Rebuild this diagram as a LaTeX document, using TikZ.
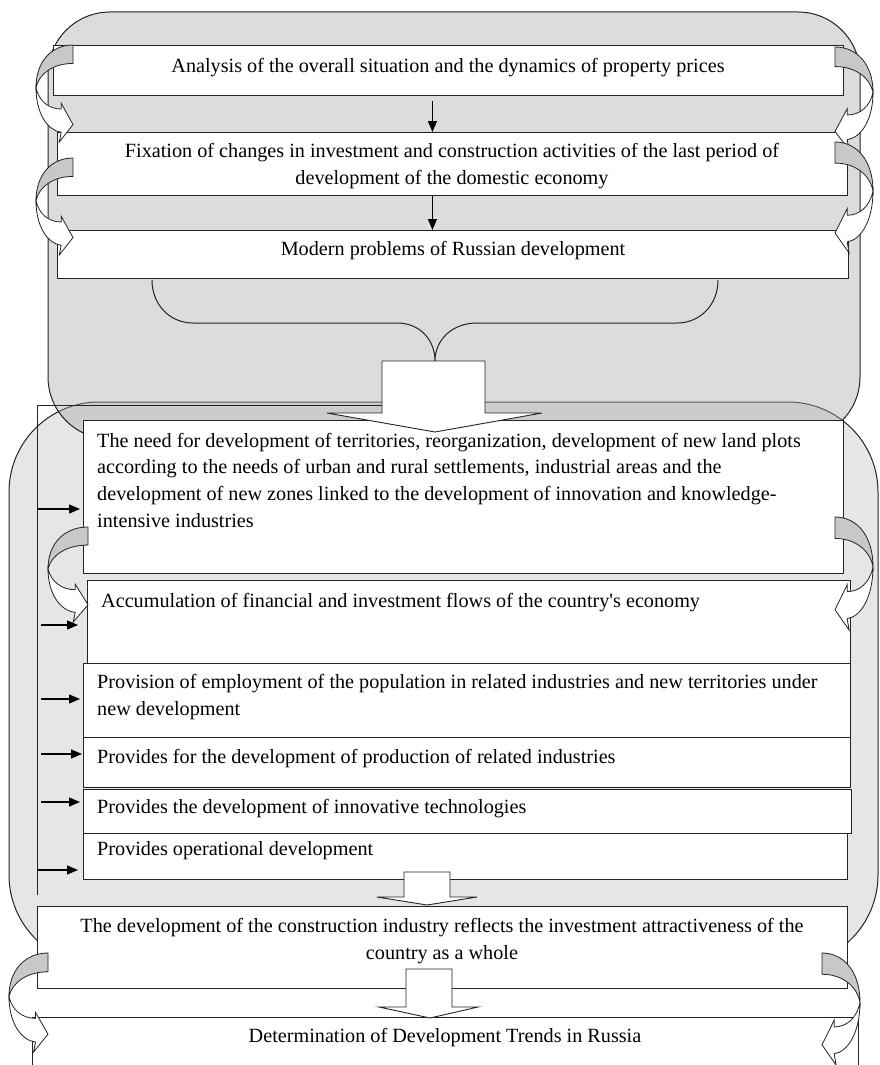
\documentclass[tikz,border=0pt]{standalone}
\usepackage{fontspec}
\setmainfont{Liberation Serif}
\usetikzlibrary{arrows.meta,calc}
\definecolor{topfill}{RGB}{167,167,167}
\definecolor{botfill}{RGB}{230,230,230}
\definecolor{crescent}{RGB}{200,200,200}
\definecolor{lin}{RGB}{35,35,35}
\newcommand\dtxt{\fontsize{20.2}{27}\selectfont}
\newcommand\dtxtb{\fontsize{20.2}{26.7}\selectfont}
\newcommand\curarr[4]{%
\begin{scope}[shift={(#1,#2)},xscale=#3,yscale=#4]
\filldraw[fill=crescent,draw=lin,line width=0.8pt]
 (1,0) .. controls (0.42,0) and (0,0.17) .. (0,0.44)
 .. controls (0.08,0.3) and (0.45,0.19) .. (1,0.19) -- cycle;
\filldraw[fill=white,draw=lin,line width=0.8pt]
 (0,0.44) .. controls (0,0.7) and (0.3,0.88) .. (0.68,0.9)
 -- (0.63,1) -- (1,0.82) -- (0.68,0.6) -- (0.68,0.66)
 .. controls (0.35,0.66) and (0.08,0.58) .. (0,0.44) -- cycle;
\end{scope}}
\begin{document}
\begin{tikzpicture}[x=1pt,y=-1pt,
  box/.style={draw=lin,line width=0.9pt,fill=white,inner sep=0pt,anchor=north west},
  txt/.style={inner sep=0pt,font=\dtxt},
  varr/.style={draw=black,line width=1.2pt,-{Triangle[length=11pt,width=9pt]}},
  harr/.style={draw=black,line width=1.2pt,-{Triangle[length=11pt,width=9pt]}},
  blockarr/.style={draw=lin,line width=0.9pt,fill=white},
  framebox/.style={draw=lin,line width=1pt}]
\useasboundingbox (0,0) rectangle (879,1065);

% big rounded frames
\draw[framebox,fill=botfill,rounded corners=90pt] (9,402) rectangle (878,965);
\draw[framebox,fill=topfill,fill opacity=0.4,rounded corners=62pt] (48,12) rectangle (860,439);

% top boxes
\node[box,minimum width=790pt,minimum height=50pt] (b1) at (53,45) {};
\node[box,minimum width=790pt,minimum height=63pt] (b2) at (57,132) {};
\node[box,minimum width=791pt,minimum height=48pt] (b3) at (57,230) {};

\coordinate (a1) at ([xshift=-16pt]b1.south);
\coordinate (a2) at ([xshift=-20pt]b2.south);
\draw[varr,shorten <=5pt] (a1) -- (a1 |- b2.north);
\draw[varr] (a2) -- (a2 |- b3.north);

% brace
\draw[draw=lin,line width=1pt] (152,280) .. controls (152,305) and (170,323) .. (193,323)
 -- (397,323) .. controls (420,323) and (435,340) .. (435,361)
 .. controls (435,340) and (452,323) .. (477,323)
 -- (677,323) .. controls (700,323) and (718,305) .. (718,280);

% left bracket line
\coordinate (vr) at (382,405);
\coordinate (vt) at (37,405);
\coordinate (vb) at (37,895);
\draw[draw=lin,line width=1pt] (vr) -- (vt) -- (vb);

% lower boxes
\node[box,minimum width=760pt,minimum height=153pt] (need) at (83,420) {};
\node[box,minimum width=763pt,minimum height=83pt] (acc) at (87,580) {};
\node[box,minimum width=767pt,minimum height=74pt] (prov) at (83,663) {};
\node[box,minimum width=767pt,minimum height=50pt] (prod) at (83,737) {};
\node[box,minimum width=768pt,minimum height=44pt] (innov) at (83,789) {};
\node[box,minimum width=764pt,minimum height=46pt] (oper) at (83,833) {};
\node[box,minimum width=810pt,minimum height=82pt] (cons) at (37,906) {};
\node[box,minimum width=826pt,minimum height=70pt] (det) at (32,1017) {};

% block arrows
\draw[blockarr] (382,361) -- (485,361) -- (485,413) -- (542,413) -- (435,432) -- (327,413) -- (382,413) -- cycle;
\draw[blockarr] (404,872) -- (450,872) -- (450,897) -- (477,897) -- (427,905) -- (377,897) -- (404,897) -- cycle;
\draw[blockarr] (406,969) -- (452,969) -- (452,1007) -- (478,1007) -- (430,1018) -- (379,1007) -- (406,1007) -- cycle;

% curved arrows
\curarr{36}{45}{37}{97}
\curarr{36}{158}{37}{97}
\curarr{48}{527}{40}{95}
\curarr{9}{953}{39}{99}
\curarr{873}{47}{-38}{103}
\curarr{873}{142}{-38}{111}
\curarr{873}{517}{-38}{113}
\curarr{860}{953}{-38}{112}

% horizontal arrows
\coordinate (h1) at ($(need.north west)+(0,89)$);
\coordinate (h2) at ($(acc.north west)+(0,45)$);
\coordinate (h3) at ($(prov.north west)+(0,36)$);
\coordinate (h4) at ($(prod.north west)+(0,17)$);
\coordinate (h5) at ($(innov.north west)+(0,13)$);
\coordinate (h6) at ($(oper.north west)+(0,37)$);
\draw[harr,shorten >=3pt] (h1 -| vt) -- (h1);
\draw[harr,shorten <=4pt,shorten >=9pt] (h2 -| vt) -- (h2);
\draw[harr,shorten <=4pt,shorten >=3pt] (h3 -| vt) -- (h3);
\draw[harr,shorten <=4pt,shorten >=1pt] (h4 -| vt) -- (h4);
\draw[harr,shorten <=4pt,shorten >=3pt] (h5 -| vt) -- (h5);
\draw[harr,shorten >=5pt] (h6 -| vt) -- (h6);

% texts
\node[txt,anchor=base] (t1) at (448,72) {Analysis of the overall situation and the dynamics of property prices};
\node[txt,anchor=base] (t2) at (452,157) {\begin{tabular}[t]{@{}c@{}}Fixation of changes in investment and construction activities of the last period of\\ development of the domestic economy\end{tabular}};
\node[txt,anchor=base] (t3) at (453,255) {Modern problems of Russian development};
\node[txt,anchor=base west,font=\dtxtb] (tneed) at (97,447) {\begin{tabular}[t]{@{}l@{}}The need for development of territories, reorganization, development of new land plots\\ according to the needs of urban and rural settlements, industrial areas and the\\ development of new zones linked to the development of innovation and knowledge-\\ intensive industries\end{tabular}};
\node[txt,anchor=base west] (tacc) at (101,607) {Accumulation of financial and investment flows of the country\textquotesingle s economy};
\node[txt,anchor=base west] (tprov) at (97,688) {\begin{tabular}[t]{@{}l@{}}Provision of employment of the population in related industries and new territories under\\ new development\end{tabular}};
\node[txt,anchor=base west] (tprod) at (97,763) {Provides for the development of production of related industries};
\node[txt,anchor=base west] (tinn) at (97,813) {Provides the development of innovative technologies};
\node[txt,anchor=base west] (topr) at (97,855) {Provides operational development};
\node[txt,anchor=base] (tcons) at (442,932) {\begin{tabular}[t]{@{}c@{}}The development of the construction industry reflects the investment attractiveness of the\\ country as a whole\end{tabular}};
\node[txt,anchor=base] (tdet) at (445,1042) {Determination of Development Trends in Russia};
\end{tikzpicture}
\end{document}
